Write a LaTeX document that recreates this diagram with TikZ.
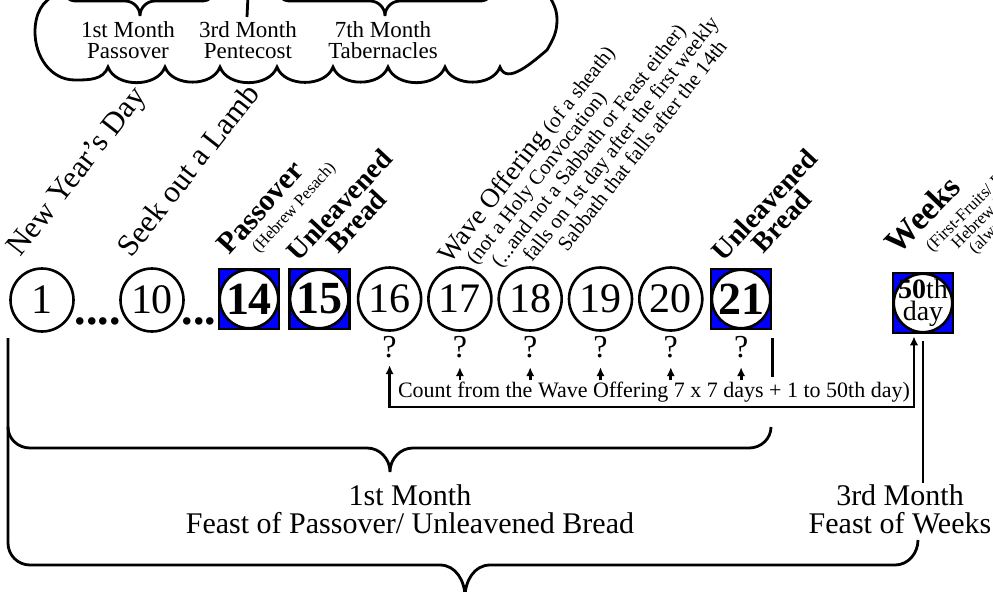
\documentclass[tikz,border=0pt]{standalone}
\usepackage{fontspec}
\setmainfont{Liberation Serif}
\usetikzlibrary{positioning,arrows.meta,calc}

\begin{document}
\begin{tikzpicture}[x=0.5pt,y=0.5pt,line width=1.4pt,node distance=35.15pt,on grid,
    >={Latex[length=4.5pt,width=4.2pt]},
    day/.style={circle,draw,line width=1.3pt,minimum size=31.5pt,inner sep=0pt,font=\fontsize{21}{21}\selectfont},
    feast/.style={rectangle,draw,line width=1.3pt,fill=blue,minimum size=30pt,inner sep=0pt,
        path picture={\draw[fill=white,line width=1.3pt] (path picture bounding box.center) circle[radius=14.6pt];},
        font=\fontsize{23}{23}\selectfont\bfseries},
    ask/.style={inner sep=0pt,font=\fontsize{16}{16}\selectfont},
    gap/.style={inner sep=0pt,font=\fontsize{23}{23}\selectfont\bfseries},
    tag/.style={rotate=#1,anchor=base west,inner sep=0pt,font=\fontsize{15.5}{15.5}\selectfont},
    tag/.default=52,
    btag/.style={rotate=47,anchor=base west,inner sep=0pt,align=center,font=\fontsize{14}{12}\selectfont\bfseries},
    wave/.style={rotate=52,anchor=base west,inner sep=0pt,align=left,font=\fontsize{10.4}{10.6}\selectfont},
    note/.style={inner sep=0pt,font=\fontsize{11}{11}\selectfont},
    month/.style={align=center,inner sep=0pt,font=\fontsize{11.5}{10.5}\selectfont},
    season/.style={align=center,inner sep=0pt,font=\fontsize{15}{14}\selectfont}]
    \useasboundingbox (0,0) rectangle (993,-591);

    % cloud with the three feast months
    \draw (58,6) to[out=200,in=90] (35,-32) to[out=-90,in=180] (75,-80) to[out=0,in=-110] (108,-67)
        to[out=-70,in=-110] (165,-67) to[out=-70,in=-110] (220,-67) to[out=-70,in=-110] (277,-67)
        to[out=-70,in=-110] (333,-67) to[out=-70,in=-110] (388,-67) to[out=-70,in=-110] (445,-67)
        to[out=-70,in=-110] (500,-67) to[out=-70,in=-140] (547,-50) to[out=60,in=-90] (557,-20)
        to[out=90,in=-60] (548,6);
    \node[month] (c1) at (128,-40) {1st Month\\Passover};
    \node[month] (c3) at (248,-40) {3rd Month\\Pentecost};
    \node[month] (c7) at (383,-40) {7th Month\\Tabernacles};
    \draw (62,12) to[out=-90,in=180] (76,-1) -- (125,-1) to[out=0,in=90] (140,-16)
        to[out=90,in=180] (155,-1) -- (202,-1) to[out=0,in=-90] (216,12);
    \draw (c3.north |- 0,4) -- (247,-17);
    \draw (276,12) to[out=-90,in=180] (290,-1) -- (370,-1) to[out=0,in=90] (385,-16)
        to[out=90,in=180] (400,-1) -- (480,-1) to[out=0,in=-90] (494,12);

    % days
    \node[day] (d1) at (42,-300) {1};
    \node[day] (d10) at (152,-300) {10};
    \node[feast] (d14) at (249,-299) {14};
    \node[feast,right=of d14] (d15) {15};
    \node[day,right=of d15] (d16) {16};
    \node[day,right=of d16] (d17) {17};
    \node[day,right=of d17] (d18) {18};
    \node[day,right=of d18] (d19) {19};
    \node[day,right=of d19] (d20) {20};
    \node[feast,right=of d20] (d21) {21};
    \node[feast,align=center,font=\fontsize{14}{9.5}\selectfont] (d50) at (923,-303) {\textbf{50}th\\day};
    \node[gap] (g1) at (98,-321) {....};
    \node[gap] (g2) at (199,-321) {...};

    % labels
    \node[tag] (t1) at (20,-259) {New Year's Day};
    \node[tag] (t10) at (131,-260) {Seek out a Lamb};
    \node[tag=48,font=\fontsize{15}{15}\selectfont\bfseries] (t14) at (229,-257) {Passover};
    \node[tag=48,font=\fontsize{8.4}{8.4}\selectfont] (t14b) at (258,-255) {(Hebrew Pesach)};
    \node[btag] (t15) at (315,-280) {Unleavened\\Bread};
    \node[wave] (t17) at (516,-318) {{\fontsize{13.5}{13.5}\selectfont Wave Offering} (of a sheath)\\
        \hspace*{7.5pt}(not a Holy Convocation)\\
        \hspace*{14pt}(...and not a Sabbath or Feast either)\\
        \hspace*{26pt}falls on 1st day after the first weekly\\
        \hspace*{41pt}Sabbath that falls after the 14th};
    \node[btag] (t21) at (740,-280) {Unleavened\\Bread};
    \node[tag=46,font=\fontsize{16.5}{16.5}\selectfont\bfseries] (t50) at (898,-256) {Weeks};
    \node[tag=45,align=left,font=\fontsize{8.5}{8}\selectfont] (t50b) at (954,-276) {(First-Fruits/ Pentecost)\\
        \hspace*{10pt}Hebrew Shavuot\\
        \hspace*{14.5pt}(always a Sunday)};

    % counting the days
    \foreach \n in {16,...,21}
        \node[ask,below=24pt of d\n] (q\n) {?};
    \node[note] (count) at (654,-392) {Count from the Wave Offering 7 x 7 days + 1 to 50th day)};
    \foreach \n in {17,...,21}
        \draw[->,shorten >=4pt] (q\n.south |- count.north) -- (q\n.south);
    \coordinate (turn) at (914,-407);
    \draw[<->,shorten <=3pt,shorten >=1pt] (q16.south) |- (turn) -- (turn |- d50.south);
    \draw ($(d21.south east)+(0,-8)$) -- ($(d21.south east)+(0,-47)$);

    % feasts
    \node[season] (m1) at (410,-509) {1st Month\\Feast of Passover/ Unleavened Bread};
    \node[season] (m3) at (900,-509) {3rd Month\\Feast of Weeks};
    \draw ($(d50.south)+(0,-7)$) -- (d50.south |- m3.north);
    \draw (8,-427) to[out=-90,in=180] (30,-448) -- (367,-448) to[out=0,in=90] (390,-472)
        to[out=90,in=180] (413,-448) -- (749,-448) to[out=0,in=-90] (771,-427);
    \draw (8,-338) -- (8,-543) to[out=-90,in=180] (30,-565) -- (440,-565) to[out=0,in=90] (465,-597)
        to[out=90,in=180] (490,-565) -- (895,-565) to[out=0,in=-90] (918,-540);
\end{tikzpicture}
\end{document}
